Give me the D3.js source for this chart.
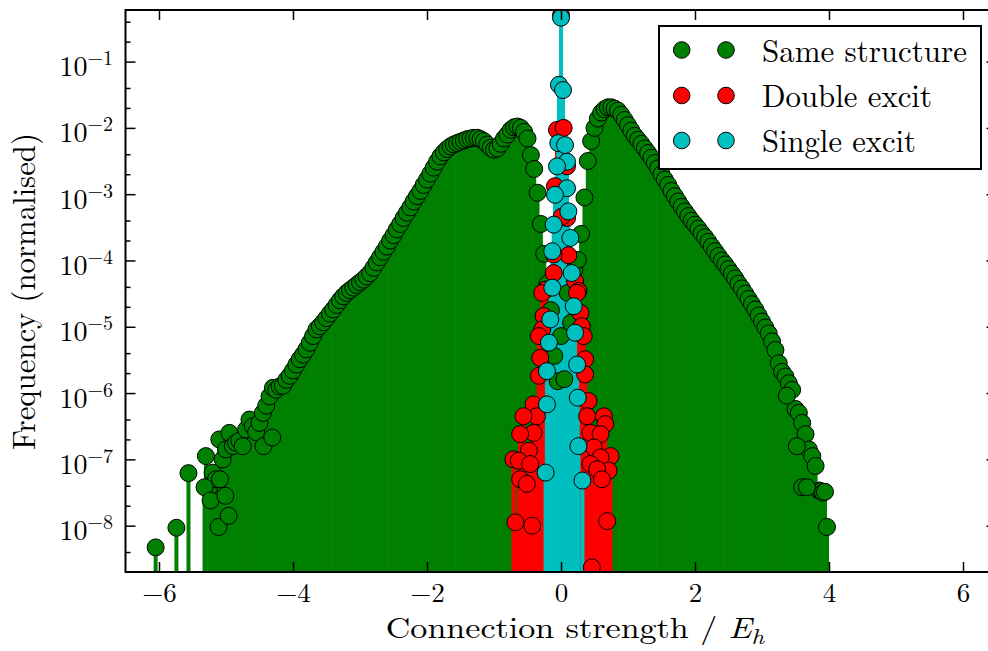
<!DOCTYPE html>
<html>
<head>
<meta charset="utf-8">
<script src="https://cdn.jsdelivr.net/npm/d3@7"></script>
<style>
  body { margin: 0; background: #fff; }
  svg { display: block; }
</style>
</head>
<body>
<svg id="chart" width="988" height="651"></svg>
<script>
// Connection strength (E_h) and normalised frequency, one [strength, frequency] pair per bin.
const sameStructure = [
  [-6.05,4.7e-9],[-5.74,9.3e-9],[-5.56,6.2e-8],
  [-5.30,1.12e-7],[-5.25,3.8e-8],[-5.20,6.3e-8],[-5.15,5.0e-8],[-5.10,2.0e-7],[-5.05,1.0e-7],
  [-5.00,1.41e-7],[-4.95,2.51e-7],[-4.90,1.58e-7],[-4.85,1.78e-7],[-4.80,1.91e-7],[-4.75,1.58e-7],
  [-4.70,2.82e-7],[-4.65,3.98e-7],[-4.60,3.16e-7],[-4.55,2.57e-7],[-4.50,3.55e-7],[-4.45,5.01e-7],
  [-4.40,6.46e-7],[-4.35,8.91e-7],[-4.30,1.20e-6],[-4.25,1.12e-6],[-4.20,1.26e-6],[-4.15,1.29e-6],
  [-4.10,1.58e-6],[-4.05,1.82e-6],[-4.00,2.19e-6],[-3.95,2.69e-6],[-3.90,3.24e-6],[-3.85,3.80e-6],
  [-3.80,4.57e-6],[-3.75,5.75e-6],[-3.70,7.24e-6],[-3.65,9.12e-6],[-3.60,1.02e-5],[-3.55,1.17e-5],
  [-3.50,1.35e-5],[-3.45,1.58e-5],[-3.40,1.82e-5],[-3.35,2.14e-5],[-3.30,2.51e-5],[-3.25,2.88e-5],
  [-3.20,3.24e-5],[-3.15,3.55e-5],[-3.10,3.89e-5],[-3.05,4.27e-5],[-3.00,4.68e-5],[-2.95,5.13e-5],
  [-2.90,5.75e-5],[-2.85,6.46e-5],[-2.80,7.76e-5],[-2.75,9.33e-5],[-2.70,1.12e-4],[-2.65,1.35e-4],
  [-2.60,1.62e-4],[-2.55,2.0e-4],[-2.50,2.40e-4],[-2.45,2.95e-4],[-2.40,3.55e-4],[-2.35,4.37e-4],
  [-2.30,5.25e-4],[-2.25,6.31e-4],[-2.20,7.76e-4],[-2.15,9.33e-4],[-2.10,1.12e-3],[-2.05,1.38e-3],
  [-2.00,1.66e-3],[-1.95,2.04e-3],[-1.90,2.51e-3],[-1.85,3.09e-3],[-1.80,3.72e-3],[-1.75,4.27e-3],
  [-1.70,4.79e-3],[-1.65,5.25e-3],[-1.60,5.62e-3],[-1.55,5.89e-3],[-1.50,6.17e-3],[-1.45,6.46e-3],
  [-1.40,6.76e-3],[-1.35,6.92e-3],[-1.30,7.08e-3],[-1.25,7.08e-3],[-1.20,6.76e-3],[-1.15,6.31e-3],
  [-1.10,5.62e-3],[-1.05,5.01e-3],[-1.00,4.68e-3],[-0.95,4.90e-3],[-0.90,5.75e-3],[-0.85,6.92e-3],
  [-0.80,7.94e-3],[-0.75,9.33e-3],[-0.70,1.02e-2],[-0.65,1.05e-2],[-0.60,1.0e-2],[-0.55,8.71e-3],
  [-0.50,6.92e-3],[-0.45,3.89e-3],[-0.40,2.40e-3],[-0.35,1.05e-3],[-0.30,3.55e-4],[-0.25,1.26e-4],
  [-0.20,4.47e-5],[-0.15,1.78e-5],[-0.10,3.63e-6],[-0.05,1.51e-6],[0.00,7.24e-6],[0.05,1.62e-6],
  [0.10,3.24e-5],[0.15,1.15e-5],[0.20,7.24e-5],[0.25,1.02e-4],[0.30,2.51e-4],[0.35,8.91e-4],
  [0.40,3.16e-3],[0.45,6.31e-3],[0.50,1.0e-2],[0.55,1.38e-2],[0.60,1.70e-2],[0.65,1.91e-2],
  [0.70,2.04e-2],[0.75,2.04e-2],[0.80,1.95e-2],[0.85,1.82e-2],[0.90,1.58e-2],[0.95,1.32e-2],
  [1.00,1.10e-2],[1.05,9.12e-3],[1.10,7.59e-3],[1.15,6.61e-3],[1.20,5.75e-3],[1.25,4.90e-3],
  [1.30,4.17e-3],[1.35,3.55e-3],[1.40,2.95e-3],[1.45,2.45e-3],[1.50,2.0e-3],[1.55,1.66e-3],
  [1.60,1.38e-3],[1.65,1.12e-3],[1.70,9.33e-4],[1.75,7.76e-4],[1.80,6.46e-4],[1.85,5.50e-4],
  [1.90,4.68e-4],[1.95,3.98e-4],[2.00,3.47e-4],[2.05,3.02e-4],[2.10,2.57e-4],[2.15,2.24e-4],
  [2.20,1.91e-4],[2.25,1.62e-4],[2.30,1.38e-4],[2.35,1.17e-4],[2.40,1.0e-4],[2.45,8.71e-5],
  [2.50,7.41e-5],[2.55,6.31e-5],[2.60,5.37e-5],[2.65,4.47e-5],[2.70,3.80e-5],[2.75,3.16e-5],
  [2.80,2.63e-5],[2.85,2.19e-5],[2.90,1.82e-5],[2.95,1.48e-5],[3.00,1.20e-5],[3.05,9.77e-6],
  [3.10,7.94e-6],[3.15,6.03e-6],[3.20,4.47e-6],[3.25,2.82e-6],[3.30,2.09e-6],[3.35,1.78e-6],
  [3.40,1.41e-6],[3.45,1.12e-6],[3.50,5.75e-7],[3.55,5.01e-7],[3.60,3.55e-7],[3.65,2.40e-7],
  [3.70,1.41e-7],[3.75,1.12e-7],[3.80,7.94e-8],
  [3.85,3.39e-8],[3.88,3.31e-8],[3.91,3.16e-8],[3.94,3.24e-8],[3.97,9.55e-9],
  [3.37,9.12e-7],[3.52,1.58e-7],[3.60,3.80e-8],[3.67,3.80e-8],
  [-5.32,3.80e-8],[-5.23,2.40e-8],[-5.11,9.55e-9],[-5.01,2.82e-8],[-4.96,1.41e-8],
  [-4.44,1.58e-7],[-4.31,2.14e-7],[-5.09,5.01e-8]
];

const doubleExcit = [
  [0.00,0.50],[-0.06,9.33e-3],[0.04,1.0e-2],[0.09,2.63e-3],[-0.09,1.32e-3],[0.09,4.37e-4],
  [0.01,4.57e-4],[0.11,1.20e-4],[-0.11,1.23e-4],[-0.11,6.46e-5],[0.21,4.90e-5],[-0.23,3.63e-5],
  [0.26,3.47e-5],[-0.28,3.24e-5],[0.24,3.24e-5],[-0.26,1.45e-5],[0.29,1.62e-5],[-0.28,9.12e-6],
  [0.31,1.02e-5],[-0.33,7.24e-6],[0.34,7.24e-6],[-0.31,3.39e-6],[0.36,3.24e-6],[-0.33,1.82e-6],
  [0.36,1.91e-6],[-0.41,6.76e-7],[-0.36,4.47e-7],[-0.56,4.47e-7],[-0.41,2.51e-7],[-0.61,2.40e-7],
  [-0.48,1.35e-7],[-0.71,1.0e-7],[-0.63,9.55e-8],[-0.46,8.51e-8],[-0.61,5.01e-8],[-0.51,4.27e-8],
  [-0.68,1.12e-8],[-0.43,1.0e-8],[0.41,7.59e-7],[0.39,4.47e-7],[0.64,4.47e-7],[0.66,3.39e-7],
  [0.44,2.51e-7],[0.59,2.40e-7],[0.49,1.51e-7],[0.74,1.12e-7],[0.59,1.07e-7],[0.44,8.51e-8],
  [0.71,6.76e-8],[0.54,7.08e-8],[0.61,5.01e-8],[0.69,1.17e-8],[0.46,2.34e-9]
];

const singleExcit = [
  [0.00,0.46],[-0.03,4.47e-2],[0.03,3.72e-2],[-0.04,5.89e-3],[0.06,5.50e-3],[0.09,3.09e-3],
  [-0.06,2.63e-3],[0.09,1.23e-3],[-0.09,9.77e-4],[0.11,5.50e-4],[-0.11,3.47e-4],[0.14,2.19e-4],
  [-0.13,1.38e-4],[0.16,6.46e-5],[-0.13,3.89e-5],[0.19,2.04e-5],[-0.16,1.29e-5],[0.21,8.13e-6],
  [-0.18,5.75e-6],[0.24,2.69e-6],[-0.21,2.14e-6],[-0.21,6.76e-7],[0.25,8.51e-7],[0.26,1.58e-7],
  [-0.23,6.31e-8],[0.32,4.79e-8]
];

const seriesNames = ["Same structure", "Double excit", "Single excit"];
const seriesColors = ["#008000", "#ff0000", "#00bfbf"];
const xTicks = [-6, -4, -2, 0, 2, 4, 6];
const yExponents = [-8, -7, -6, -5, -4, -3, -2, -1];
const yMinorMultipliers = [2, 4];
const xLabel = "Connection strength / ";
const yLabel = "Frequency (normalised)";

const FONT = "'Latin Modern Roman','CMU Serif','Liberation Serif','Times New Roman',serif";
const svg = d3.select("#chart");
const plot = { l: 125.5, r: 996.5, t: 10, b: 572 };

const x = d3.scaleLinear().domain([-6.5, 6.5]).range([plot.l, plot.r]);
const y = d3.scaleLog().domain([2e-9, 0.6]).range([plot.b, plot.t]);

svg.append("rect").attr("width", 988).attr("height", 651).attr("fill", "#fff");

svg.append("defs").append("clipPath").attr("id", "plot-clip")
  .append("rect")
  .attr("x", plot.l).attr("y", plot.t)
  .attr("width", plot.r - plot.l).attr("height", plot.b - plot.t);

const series = [sameStructure, doubleExcit, singleExcit].map((data, i) => ({
  name: seriesNames[i], color: seriesColors[i], data
}));

const dataLayer = svg.append("g").attr("clip-path", "url(#plot-clip)");

// stems from the bottom of the axes up to each bin value
series.forEach(s => {
  dataLayer.append("g").selectAll("line").data(s.data).join("line")
    .attr("x1", d => x(d[0])).attr("x2", d => x(d[0]))
    .attr("y1", plot.b).attr("y2", d => y(d[1]))
    .attr("stroke", s.color).attr("stroke-width", 4);
});

// circle markers on top of the stems
series.forEach(s => {
  dataLayer.append("g").selectAll("circle").data(s.data).join("circle")
    .attr("cx", d => x(d[0])).attr("cy", d => y(d[1]))
    .attr("r", 8.5)
    .attr("fill", s.color).attr("stroke", "#000").attr("stroke-width", 1);
});

// axes with inward ticks on all four sides
const fmtX = d => d < 0 ? "\u2212" + Math.abs(d) : String(d);
const yMajor = yExponents.map(e => Math.pow(10, e));
const yMinor = [];
for (let e = -9; e <= -1; e++) {
  yMinorMultipliers.forEach(m => {
    const v = m * Math.pow(10, e);
    if (v > 2.01e-9 && v < 0.6) yMinor.push(v);
  });
}

function styleAxis(g) {
  g.select(".domain").remove();
  g.selectAll(".tick line").attr("stroke", "#000").attr("stroke-width", 1.5);
  g.attr("font-family", FONT);
}

const xAxisG = svg.append("g").attr("transform", `translate(0,${plot.b})`)
  .call(d3.axisBottom(x).tickValues(xTicks).tickSize(-10).tickPadding(11.5).tickFormat(fmtX));
styleAxis(xAxisG);
xAxisG.attr("font-size", 27);
xAxisG.selectAll(".tick text").attr("fill", "#000").attr("dy", "0.7em");

const xTopG = svg.append("g").attr("transform", `translate(0,${plot.t})`)
  .call(d3.axisTop(x).tickValues(xTicks).tickSize(-10).tickFormat(""));
styleAxis(xTopG);

const yAxisG = svg.append("g").attr("transform", `translate(${plot.l},0)`)
  .call(d3.axisLeft(y).tickValues(yMajor).tickSize(-10).tickFormat(""));
styleAxis(yAxisG);
yAxisG.selectAll(".tick").each(function (d, i) {
  const t = d3.select(this).append("text")
    .attr("class", "pow-label")
    .attr("x", -12.5).attr("y", 14)
    .attr("text-anchor", "end")
    .attr("fill", "#000")
    .attr("font-size", 28);
  t.append("tspan").text("10");
  t.append("tspan").attr("dy", -11).attr("font-size", 20)
    .text("\u2212" + Math.abs(yExponents[i]));
});

const yMinorG = svg.append("g").attr("transform", `translate(${plot.l},0)`)
  .call(d3.axisLeft(y).tickValues(yMinor).tickSize(-5).tickFormat(""));
styleAxis(yMinorG);

const yRightG = svg.append("g").attr("transform", `translate(${plot.r},0)`)
  .call(d3.axisRight(y).tickValues(yMajor).tickSize(-10).tickFormat(""));
styleAxis(yRightG);
const yRightMinorG = svg.append("g").attr("transform", `translate(${plot.r},0)`)
  .call(d3.axisRight(y).tickValues(yMinor).tickSize(-5).tickFormat(""));
styleAxis(yRightMinorG);

// frame
svg.append("rect")
  .attr("x", plot.l).attr("y", plot.t)
  .attr("width", plot.r - plot.l).attr("height", plot.b - plot.t)
  .attr("fill", "none").attr("stroke", "#000").attr("stroke-width", 2);

// horizontal stretch of a text node to a given width
function fitWidth(textSel, width) {
  const w = textSel.node().getBBox().width;
  if (w > 0) textSel.attr("transform", `scale(${width / w},1)`);
}

// axis titles
const xTitleG = svg.append("g").attr("transform", "translate(575,637.5)");
const xTitle = xTitleG.append("text")
  .attr("text-anchor", "middle").attr("font-family", FONT)
  .attr("font-size", 29).attr("fill", "#000");
xTitle.append("tspan").text(xLabel);
xTitle.append("tspan").attr("font-style", "italic").text("E");
xTitle.append("tspan").attr("font-style", "italic").attr("font-size", 21).attr("dy", 6).text("h");
fitWidth(xTitle, 380);

const yTitleG = svg.append("g").attr("transform", "translate(35,291.5) rotate(-90)");
const yTitle = yTitleG.append("text")
  .attr("text-anchor", "middle").attr("font-family", FONT)
  .attr("font-size", 32).attr("fill", "#000")
  .text(yLabel);
fitWidth(yTitle, 317);

// legend
const legend = svg.append("g");
legend.append("rect")
  .attr("x", 659).attr("y", 26).attr("width", 322).attr("height", 143)
  .attr("fill", "#fff").attr("stroke", "#000").attr("stroke-width", 2);
const rowY = [50, 95.5, 140.5];
const legendWidths = [205, 170, 154];
series.forEach((s, i) => {
  [681.7, 726].forEach(cx => {
    legend.append("circle")
      .attr("cx", cx).attr("cy", rowY[i]).attr("r", 8.3)
      .attr("fill", s.color).attr("stroke", "#000").attr("stroke-width", 1);
  });
  const g = legend.append("g").attr("transform", `translate(762,${rowY[i] + 11.5})`);
  const t = g.append("text")
    .attr("font-family", FONT).attr("font-size", 32).attr("fill", "#000")
    .text(s.name);
  fitWidth(t, legendWidths[i]);
});
</script>
</body>
</html>
